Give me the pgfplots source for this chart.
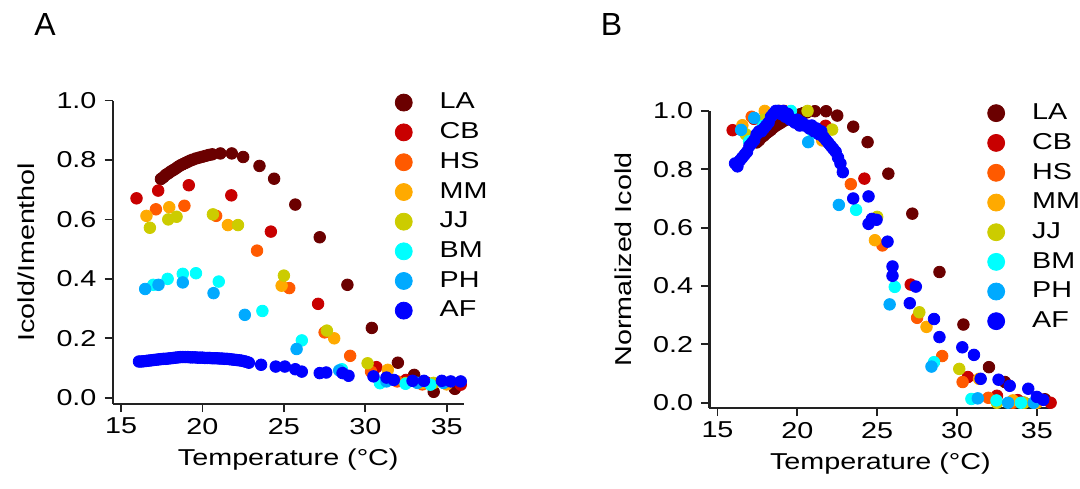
\documentclass[border=0pt]{standalone}
\usepackage{fontspec}
\setmainfont[FakeStretch=1.25]{Liberation Sans}
\newfontfamily\panelfont{Liberation Sans}
\usepackage{pgfplots}
\pgfplotsset{compat=1.18}

\definecolor{cLA}{HTML}{6B0000}
\definecolor{cCB}{HTML}{C80000}
\definecolor{cHS}{HTML}{FF5A00}
\definecolor{cMM}{HTML}{FFAA00}
\definecolor{cJJ}{HTML}{CCCC00}
\definecolor{cBM}{HTML}{00FFFF}
\definecolor{cPH}{HTML}{00AAFF}
\definecolor{cAF}{HTML}{0000FF}
\definecolor{axgray}{HTML}{222222}

\pgfplotsset{
  panel/.style={
    scale only axis,
    axis lines=left,
    axis line style={-, line width=1.1pt, axgray},
    tick style={line width=0.9pt, axgray},
    tick align=outside,
    major tick length=4.2pt,
    xtick={15,20,25,30,35},
    ytick={0,0.2,0.4,0.6,0.8,1.0},
    yticklabel style={/pgf/number format/.cd, fixed, fixed zerofill, precision=1},
    xticklabel style={yshift=1pt},
    xlabel style={yshift=0.5pt},
    ylabel style={yshift=3pt},
    /pgf/number format/assume math mode=true,
    xmin=14.5, xmax=36.04, ymin=-0.02, ymax=1.0,
    clip=false,
    legend cell align=left,
    legend style={draw=none, fill=none, inner sep=0pt, outer sep=0pt,
      row sep=5.2pt, nodes={inner sep=0pt},
      /tikz/every odd column/.append style={column sep=13.75pt}},
    legend image code/.code={\draw[##1, mark size=4.25pt] plot coordinates {(0pt,0pt)};},
  },
  s/.style={only marks, mark=*, mark size=2.9pt, color=#1, mark options={draw=none, fill=#1}},
}

\begin{document}
\fontsize{11.5}{13.8}\selectfont
\begin{tikzpicture}
\path (-56.5pt,-42.5pt) rectangle (483.5pt,202pt);

% ---------- panel A ----------
\begin{axis}[panel, width=175.5pt, height=151.7pt,
    at={(0pt,0pt)}, anchor=south west,
    xlabel={Temperature (°C)}, ylabel={Icold/Imenthol},
    legend style={at={(0.805,1.025)}, anchor=north west}]
\addplot[s=cLA] coordinates {(17.45,0.736)(17.60,0.742)(17.75,0.750)(17.90,0.755)(18.05,0.761)(18.20,0.766)(18.35,0.771)(18.50,0.777)(18.65,0.782)(18.80,0.786)(18.95,0.790)(19.10,0.794)(19.25,0.798)(19.40,0.801)(19.60,0.805)(19.80,0.808)(20.00,0.811)(20.20,0.814)(20.40,0.817)(20.60,0.819)(21.10,0.822)(21.80,0.822)(22.50,0.810)(23.50,0.780)(24.40,0.737)(25.70,0.650)(27.20,0.540)(28.90,0.380)(30.40,0.235)(32.00,0.118)(33.00,0.077)(34.20,0.020)(35.50,0.030)};
\addplot[s=cCB] coordinates {(15.95,0.671)(17.28,0.697)(19.16,0.715)(21.77,0.681)(24.20,0.559)(27.10,0.316)(30.68,0.103)(32.50,0.060)(33.80,0.050)(35.86,0.044)};
\addplot[s=cHS] coordinates {(17.14,0.634)(18.89,0.646)(20.84,0.612)(23.35,0.495)(25.33,0.369)(27.50,0.220)(29.07,0.141)(30.35,0.088)(31.96,0.055)(33.50,0.045)(35.00,0.050)};
\addplot[s=cMM] coordinates {(16.56,0.612)(17.96,0.641)(21.56,0.581)(24.86,0.377)(28.09,0.200)(31.38,0.094)(33.50,0.050)(35.00,0.045)};
\addplot[s=cJJ] coordinates {(16.77,0.572)(17.90,0.600)(18.41,0.609)(20.64,0.617)(22.18,0.581)(25.00,0.411)(27.64,0.226)(30.14,0.116)(32.50,0.050)(34.20,0.050)};
\addplot[s=cBM] coordinates {(16.98,0.380)(17.86,0.400)(18.79,0.417)(19.60,0.419)(21.00,0.391)(23.68,0.292)(26.10,0.193)(28.56,0.096)(30.90,0.049)(32.47,0.047)(34.00,0.044)};
\addplot[s=cPH] coordinates {(16.48,0.366)(17.30,0.380)(18.79,0.388)(20.68,0.352)(22.60,0.279)(25.78,0.164)(28.40,0.092)(31.30,0.055)(33.20,0.050)(34.80,0.050)};
\addplot[s=cAF] coordinates {(16.10,0.122)(16.25,0.122)(16.40,0.123)(16.55,0.124)(16.70,0.125)(16.85,0.126)(17.00,0.127)(17.15,0.128)(17.30,0.129)(17.45,0.130)(17.60,0.131)(17.75,0.131)(17.90,0.132)(18.05,0.133)(18.20,0.134)(18.35,0.135)(18.50,0.136)(18.65,0.137)(18.80,0.137)(18.95,0.137)(19.10,0.137)(19.25,0.136)(19.40,0.136)(19.55,0.136)(19.70,0.135)(19.85,0.135)(20.00,0.135)(20.15,0.134)(20.30,0.134)(20.45,0.134)(20.60,0.133)(20.75,0.133)(20.90,0.133)(21.05,0.132)(21.20,0.132)(21.35,0.131)(21.50,0.131)(21.65,0.130)(21.80,0.129)(21.95,0.128)(22.10,0.127)(22.25,0.126)(22.40,0.125)(22.55,0.123)(22.70,0.121)(22.85,0.118)
  (23.60,0.111)(24.50,0.105)(25.06,0.105)(25.70,0.096)(26.10,0.088)(27.20,0.083)(27.60,0.085)(28.60,0.083)(28.97,0.074)(30.50,0.072)(31.30,0.068)(31.75,0.060)(32.90,0.057)(33.60,0.057)(34.70,0.057)(35.25,0.055)(35.86,0.055)};
\legend{LA,CB,HS,MM,JJ,BM,PH,AF}
\end{axis}

% ---------- panel B ----------
\begin{axis}[panel, width=171pt, height=148.5pt,
    at={(298.5pt,-2pt)}, anchor=south west,
    xmax=35.9, ymin=-0.017,
    xlabel={Temperature (°C)}, ylabel={Normalized Icold},
    legend style={at={(0.814,1.025)}, anchor=north west}]
\addplot[s=cLA] coordinates {(17.45,0.892)(17.60,0.899)(17.75,0.909)(17.90,0.915)(18.05,0.923)(18.20,0.929)(18.35,0.935)(18.50,0.943)(18.65,0.949)(18.80,0.954)(18.95,0.959)(19.10,0.964)(19.25,0.969)(19.40,0.973)(19.60,0.978)(19.80,0.981)(20.00,0.985)(20.20,0.989)(20.40,0.993)(20.60,0.995)(21.10,0.999)(21.80,0.999)(22.50,0.984)(23.50,0.946)(24.40,0.893)(25.70,0.785)(27.20,0.648)(28.90,0.448)(30.40,0.268)(32.00,0.122)(33.00,0.071)(34.20,0.000)(35.50,0.012)};
\addplot[s=cCB] coordinates {(15.95,0.934)(17.28,0.973)(19.16,1.000)(21.77,0.949)(24.20,0.768)(27.10,0.405)(30.68,0.088)(32.50,0.024)(33.80,0.009)(35.86,0.000)};
\addplot[s=cHS] coordinates {(17.14,0.980)(18.89,1.000)(20.84,0.943)(23.35,0.749)(25.33,0.539)(27.50,0.291)(29.07,0.160)(30.35,0.071)(31.96,0.017)(33.50,0.000)(35.00,0.008)};
\addplot[s=cMM] coordinates {(16.56,0.951)(17.96,1.000)(21.56,0.899)(24.86,0.557)(28.09,0.260)(31.38,0.082)(33.50,0.008)(35.00,0.000)};
\addplot[s=cJJ] coordinates {(16.77,0.920)(17.90,0.970)(18.41,0.986)(20.64,1.000)(22.18,0.936)(25.00,0.637)(27.64,0.310)(30.14,0.116)(32.50,0.000)(34.20,0.000)};
\addplot[s=cBM] coordinates {(16.98,0.896)(17.86,0.949)(18.79,0.995)(19.60,1.000)(21.00,0.925)(23.68,0.661)(26.10,0.397)(28.56,0.139)(30.90,0.013)(32.47,0.008)(34.00,0.000)};
\addplot[s=cPH] coordinates {(16.48,0.935)(17.30,0.976)(18.79,1.000)(20.68,0.893)(22.60,0.678)(25.78,0.337)(28.40,0.124)(31.30,0.015)(33.20,0.000)(34.80,0.000)};
\addplot[s=cAF] coordinates {(16.10,0.82)(16.25,0.81)(16.40,0.83)(16.55,0.84)(16.70,0.85)(16.85,0.86)(17.00,0.88)(17.15,0.89)(17.30,0.90)(17.45,0.92)(17.60,0.93)(17.75,0.93)(17.90,0.94)(18.05,0.95)(18.20,0.96)(18.35,0.98)(18.50,0.99)(18.65,1.00)(18.80,1.00)(18.95,0.99)(19.10,1.00)(19.25,0.98)(19.40,0.99)(19.55,0.97)(19.70,0.97)(19.85,0.96)(20.00,0.97)(20.15,0.95)(20.30,0.96)(20.45,0.95)(20.60,0.95)(20.75,0.94)(20.90,0.95)(21.05,0.93)(21.20,0.94)(21.35,0.92)(21.50,0.93)(21.65,0.91)(21.80,0.90)(21.95,0.89)(22.10,0.88)(22.25,0.87)(22.40,0.86)(22.55,0.84)(22.70,0.82)(22.85,0.79)
  (23.50,0.700)(24.46,0.707)(24.46,0.613)(24.67,0.630)(24.96,0.627)(25.65,0.552)(25.96,0.467)(25.96,0.435)(27.04,0.341)(27.42,0.398)(28.56,0.287)(28.90,0.225)(30.33,0.190)(31.06,0.164)(31.48,0.082)(32.60,0.079)(33.30,0.058)(34.46,0.048)(35.00,0.020)(35.40,0.010)};
\legend{LA,CB,HS,MM,JJ,BM,PH,AF}
\end{axis}

\node[font=\panelfont\fontsize{16}{16}\selectfont] at (-34pt,189.5pt) {A};
\node[font=\panelfont\fontsize{16}{16}\selectfont] at (249.5pt,189.5pt) {B};
\end{tikzpicture}
\end{document}
